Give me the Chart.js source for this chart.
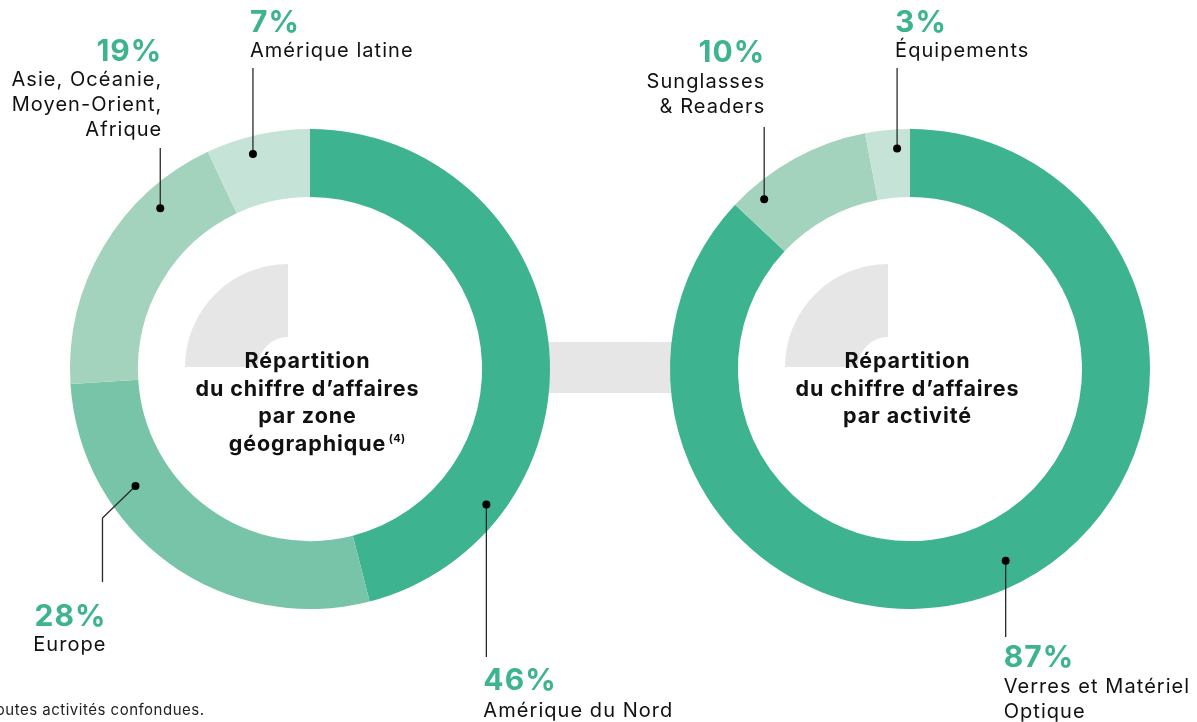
<!DOCTYPE html>
<html lang="fr">
<head>
<meta charset="utf-8">
<script src="https://cdn.jsdelivr.net/npm/chart.js@4.4.1/dist/chart.umd.min.js"></script>
<style>
  html, body { margin: 0; padding: 0; background: #fff; }
  .wrap { position: relative; width: 1197px; height: 722px; overflow: hidden; }
  canvas { position: absolute; left: 0; top: 0; }
</style>
</head>
<body>
<div class="wrap">
  <canvas id="zoneChart" width="1197" height="722"></canvas>
  <canvas id="activityChart" width="1197" height="722"></canvas>
</div>
<script>
// zone géographique
const zoneLabels = [['Amérique du Nord'], ['Europe'], ['Asie, Océanie,', 'Moyen-Orient,', 'Afrique'], ['Amérique latine']]
const zoneValues = [46, 28, 19, 7]
const zoneColors = ['#3db38f', '#77c4a8', '#a3d3bd', '#c5e3d6']
const zoneTitle = ['Répartition', 'du chiffre d’affaires', 'par zone', 'géographique']

// activité
const activityLabels = [['Verres et Matériel', 'Optique'], ['Sunglasses', '& Readers'], ['Équipements']]
const activityValues = [87, 10, 3]
const activityColors = ['#3db38f', '#a3d3bd', '#c5e3d6']
const activityTitle = ['Répartition', 'du chiffre d’affaires', 'par activité']

const footnote = '(4) Toutes activités confondues.'

const FONT = 'Inter, "Open Sans", sans-serif'
const GREEN = '#3db38f'
const GRAY = '#e6e6e6'

// where the dot sits in each slice (fraction of angle / of ring depth) and where the text goes
const zoneCallouts = [
    { at: 0.77, depth: 0.74, lineTo: 657, dx: -3, align: 'left', pctY: 690, textY: 717 },
    { at: 0.70, depth: 0.56, elbow: [-33, 32], lineTo: 582, dx: 3, align: 'right', pctY: 626, textY: 651 },
    { at: 0.74, depth: 0.70, lineTo: 148, dx: 1, align: 'right', pctY: 61, textY: 86 },
    { at: 0.41, depth: 0.74, lineTo: 68, dx: -3, align: 'left', pctY: 32, textY: 57 }
]
const activityCallouts = [
    { at: 0.49, depth: 0.62, lineTo: 637, dx: -2, align: 'left', pctY: 667, textY: 693 },
    { at: 0.17, depth: 0.76, lineTo: 127, dx: 0, align: 'right', pctY: 62, textY: 88 },
    { at: 0.69, depth: 0.72, lineTo: 68, dx: -2, align: 'left', pctY: 32, textY: 57 }
]

function center(chart) {
    const a = chart.getDatasetMeta(0).data[0]
    return a.getProps(['x', 'y', 'innerRadius', 'outerRadius'], true)
}

// text with letter spacing, keeping right-aligned text flush
function spacedText(ctx, t, x, y, spacing) {
    ctx.letterSpacing = spacing + 'px'
    const shift = ctx.textAlign === 'right' ? spacing : ctx.textAlign === 'center' ? spacing / 2 : 0
    ctx.fillText(t, x + shift, y)
}

function drawQuarter(chart) {
    const c = center(chart)
    const ctx = chart.ctx
    const qx = c.x - 22, qy = c.y - 2
    ctx.save()
    ctx.fillStyle = GRAY
    ctx.beginPath()
    ctx.arc(qx, qy, 103, Math.PI, Math.PI * 1.5)
    ctx.arc(qx, qy, 30, Math.PI * 1.5, Math.PI, true)
    ctx.closePath()
    ctx.fill()
    ctx.restore()
}

function drawTitle(chart, lines, sup) {
    const c = center(chart)
    const ctx = chart.ctx
    ctx.save()
    ctx.fillStyle = '#111'
    lines.forEach((t, i) => {
        const y = c.y - 1 + i * 27.5
        ctx.textAlign = 'center'
        ctx.font = 'bold 21.5px ' + FONT
        spacedText(ctx, t, c.x - 3, y, 0.9)
        if (sup && i === lines.length - 1) {
            const w = ctx.measureText(t).width
            ctx.font = 'bold 11px ' + FONT
            ctx.textAlign = 'left'
            spacedText(ctx, sup, c.x - 3 + w / 2 + 3, y - 9, 0.3)
        }
    })
    ctx.restore()
}

function drawCallouts(chart, specs, labels, values) {
    const ctx = chart.ctx
    const arcs = chart.getDatasetMeta(0).data
    arcs.forEach((arc, i) => {
        const s = specs[i]
        const p = arc.getProps(['x', 'y', 'startAngle', 'endAngle', 'innerRadius', 'outerRadius'], true)
        const a = p.startAngle + s.at * (p.endAngle - p.startAngle)
        const r = p.innerRadius + s.depth * (p.outerRadius - p.innerRadius)
        const dx = p.x + r * Math.cos(a)
        const dy = p.y + r * Math.sin(a)

        ctx.save()
        ctx.strokeStyle = '#2a2a2a'
        ctx.lineWidth = 1.3
        ctx.beginPath()
        ctx.moveTo(dx, dy)
        let lx = dx
        if (s.elbow) {
            lx = dx + s.elbow[0]
            ctx.lineTo(lx, dy + s.elbow[1])
        }
        ctx.lineTo(lx, s.lineTo)
        ctx.stroke()

        ctx.fillStyle = '#000'
        ctx.beginPath()
        ctx.arc(dx, dy, 4, 0, Math.PI * 2)
        ctx.fill()

        const tx = lx + s.dx
        ctx.textAlign = s.align
        ctx.fillStyle = GREEN
        ctx.font = 'bold 30px ' + FONT
        spacedText(ctx, values[i] + '%', tx, s.pctY, 1)

        ctx.fillStyle = '#111'
        ctx.font = '20px ' + FONT
        labels[i].forEach((t, j) => spacedText(ctx, t, tx, s.textY + j * 25, 1.05))
        ctx.restore()
    })
}

const zonePlugin = {
    id: 'zoneDeco',
    beforeDatasetsDraw(chart) {
        const c = center(chart)
        const ctx = chart.ctx
        // bridge between the two rings
        ctx.save()
        ctx.fillStyle = GRAY
        ctx.fillRect(c.x + 200, c.y - 27, 200, 51)
        ctx.restore()
        drawQuarter(chart)
    },
    afterDraw(chart) {
        drawTitle(chart, zoneTitle, '(4)')
        drawCallouts(chart, zoneCallouts, zoneLabels, zoneValues)
        const ctx = chart.ctx
        ctx.save()
        ctx.fillStyle = '#222'
        ctx.font = '15px ' + FONT
        ctx.textAlign = 'right'
        spacedText(ctx, footnote, 204, 715, 0.5)
        ctx.restore()
    }
}

const activityPlugin = {
    id: 'activityDeco',
    beforeDatasetsDraw(chart) {
        drawQuarter(chart)
    },
    afterDraw(chart) {
        drawTitle(chart, activityTitle)
        drawCallouts(chart, activityCallouts, activityLabels, activityValues)
    }
}

function makeDonut(id, labels, values, colors, padding, plugin) {
    return new Chart(document.getElementById(id).getContext('2d'), {
        type: 'doughnut',
        data: {
            labels: labels.map(l => l.join(' ')),
            datasets: [{
                data: values,
                backgroundColor: colors,
                borderWidth: 0,
                hoverOffset: 0
            }]
        },
        options: {
            responsive: false,
            animation: false,
            cutout: '71.7%',
            layout: { padding: padding },
            plugins: {
                legend: { display: false },
                tooltip: { enabled: false }
            },
            events: []
        },
        plugins: [plugin]
    })
}

makeDonut('zoneChart', zoneLabels, zoneValues, zoneColors,
    { left: 70, right: 647, top: 129, bottom: 113 }, zonePlugin)
makeDonut('activityChart', activityLabels, activityValues, activityColors,
    { left: 670, right: 47, top: 129, bottom: 113 }, activityPlugin)
</script>
</body>
</html>
